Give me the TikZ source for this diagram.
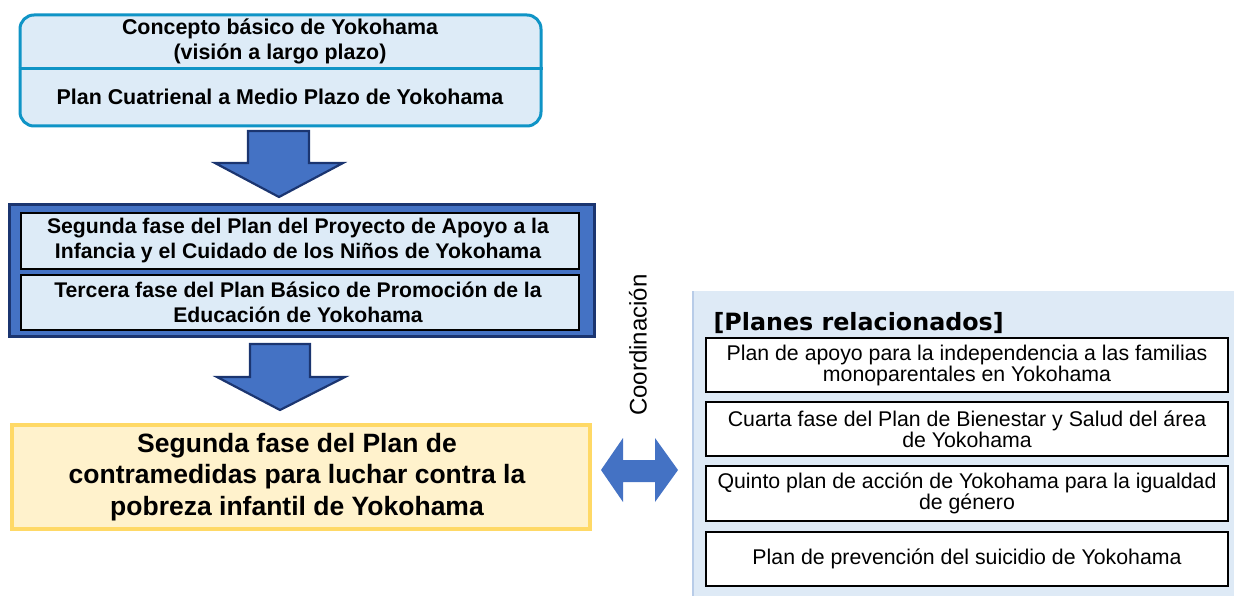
\documentclass[tikz,border=0pt]{standalone}
\usepackage{fontspec}
\setmainfont{Liberation Sans}
\newfontfamily\titlefont{DejaVu Sans}
\definecolor{topborder}{HTML}{0F94C6}
\definecolor{lightblue}{HTML}{DDEBF7}
\definecolor{midblue}{HTML}{4472C4}
\definecolor{navy}{HTML}{1B3570}
\definecolor{yfill}{HTML}{FFF2CC}
\definecolor{yborder}{HTML}{FFD966}
\definecolor{panelfill}{HTML}{DEEAF6}
\definecolor{paneledge}{HTML}{B8CCE8}
\tikzset{
  boxnw/.style={inner sep=0pt, anchor=north west, align=center},
  boldtxt/.style={font=\bfseries\fontsize{21.2}{25}\selectfont, align=center},
  plaintxt/.style={font=\fontsize{21.3}{21}\selectfont, align=center},
  blockarrow/.style={fill=midblue, draw=navy, line width=2.2pt, line join=miter},
}
\begin{document}
\begin{tikzpicture}[x=1pt,y=-1pt]
\useasboundingbox (0,0) rectangle (1234,596);
% top box
\node[boxnw, draw=topborder, fill=lightblue, line width=3pt, rounded corners=14pt,
      minimum width=521pt, minimum height=111pt] (top) at (18.5,13.5) {};
\draw[topborder, line width=3pt] (top.west |- 0,69) coordinate (dl) -- (top.east |- 0,69) coordinate (dr);
\node[boldtxt, font=\bfseries\fontsize{21.4}{25}\selectfont] (concepto) at (280,41.5) {Concepto básico de Yokohama\\(visión a largo plazo)};
\node[boldtxt, font=\bfseries\fontsize{21.4}{25}\selectfont] (cuatrienal) at (280,97) {Plan Cuatrienal a Medio Plazo de Yokohama};
% arrow 1
\draw[blockarrow] (248,131) -- (309,131) -- (309,163) -- (343,163) -- (279,197) -- (215,163) -- (248,163) -- cycle;
% middle box
\node[boxnw, draw=navy, fill=midblue, line width=3pt, minimum width=585pt, minimum height=132pt] (mid) at (8,203) {};
\node[boxnw, draw=black, fill=lightblue, line width=2pt, minimum width=558pt, minimum height=56pt] (seg) at (20,212) {};
\node[boldtxt] (segtxt) at (298,240.5) {Segunda fase del Plan del Proyecto de Apoyo a la\\Infancia y el Cuidado de los Niños de Yokohama};
\node[boxnw, draw=black, fill=lightblue, line width=2pt, minimum width=558pt, minimum height=55pt] (ter) at (20,274) {};
\node[boldtxt] (tertxt) at (298,302) {Tercera fase del Plan Básico de Promoción de la\\Educación de Yokohama};
% arrow 2
\draw[blockarrow] (250,344) -- (310,344) -- (310,377) -- (345,377) -- (280,410) -- (217,377) -- (250,377) -- cycle;
% yellow box
\node[boxnw, draw=yborder, fill=yfill, line width=3.5pt, minimum width=578pt, minimum height=104pt] (pobreza) at (10,423) {};
\node[font=\bfseries\fontsize{26.5}{31.5}\selectfont, align=center] (pobtxt) at (297,477) {Segunda fase del Plan de\\contramedidas para luchar contra la\\pobreza infantil de Yokohama};
% coordination
\node[plaintxt, font=\fontsize{24}{26}\selectfont, rotate=90] (coord) at (638,345) {Coordinación};
\fill[midblue] (601,470) -- (623,438) -- (623,460) -- (655,460) -- (655,438) -- (678,470) -- (655,502) -- (655,482) -- (623,482) -- (623,502) -- cycle;
% right panel
\node[boxnw, fill=panelfill, minimum width=542pt, minimum height=305pt] (panel) at (692,291) {};
\draw[paneledge, line width=2pt] (panel.north west) ++(1,0) coordinate (pe1) -- (panel.south west -| pe1);
\node[anchor=base west, font=\titlefont\bfseries\fontsize{23.8}{26}\selectfont] (ptitle) at (710,330) {[Planes relacionados]};
\node[boxnw, draw=black, fill=white, line width=2pt, minimum width=522pt, minimum height=54pt] (r1) at (705,337) {};
\node[plaintxt] (r1t) at (r1.center) {Plan de apoyo para la independencia a las familias\\monoparentales en Yokohama};
\node[boxnw, draw=black, fill=white, line width=2pt, minimum width=522pt, minimum height=54pt] (r2) at (705,401) {};
\node[plaintxt] (r2t) at (r2.center) {Cuarta fase del Plan de Bienestar y Salud del área\\de Yokohama};
\node[boxnw, draw=black, fill=white, line width=2pt, minimum width=522pt, minimum height=55pt] (r3) at (705,465) {};
\node[plaintxt] (r3t) at (r3.center) {Quinto plan de acción de Yokohama para la igualdad\\de género};
\node[boxnw, draw=black, fill=white, line width=2pt, minimum width=522pt, minimum height=54pt] (r4) at (705,531) {};
\node[plaintxt] (r4t) at (r4.center) {Plan de prevención del suicidio de Yokohama};
\end{tikzpicture}
\end{document}
